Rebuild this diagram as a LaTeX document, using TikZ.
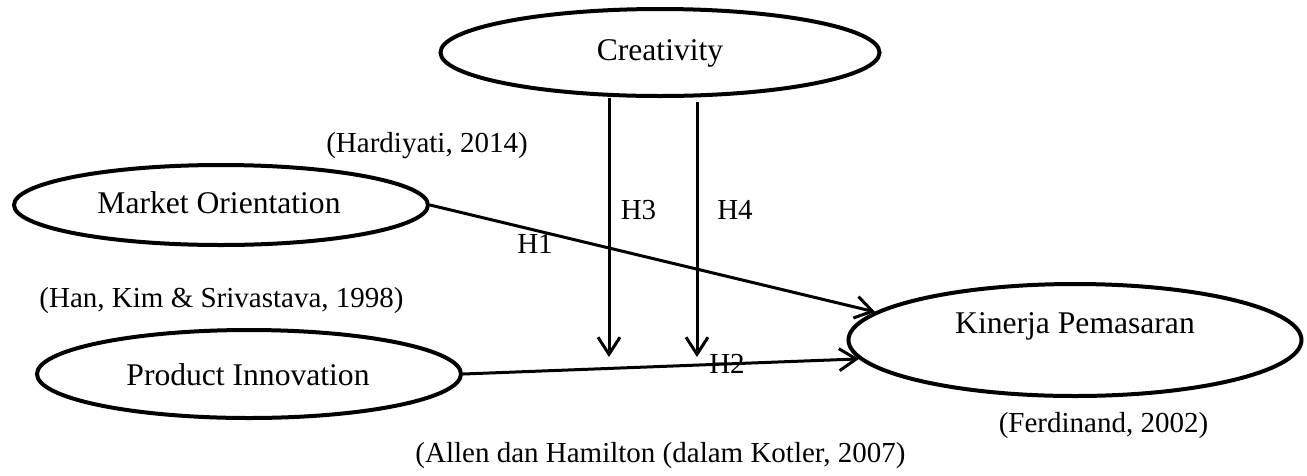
\documentclass[tikz,border=0pt]{standalone}
\usepackage{fontspec}
\setmainfont{Liberation Serif}
\usetikzlibrary{shapes.geometric,arrows.meta}
\tikzset{
  ell/.style={draw, ellipse, line width=4pt, inner sep=0pt},
  bigtxt/.style={anchor=base, inner sep=0pt, font=\fontsize{31.6}{38}\selectfont},
  smalltxt/.style={anchor=base, inner sep=0pt, font=\fontsize{29}{35}\selectfont},
  conn/.style={line width=3pt, -{Straight Barb[length=17pt,width=22pt]}}
}
\begin{document}
\begin{tikzpicture}[x=1pt,y=-1pt]
\useasboundingbox (0,0) rectangle (1307,475);
% ellipses
\node[ell, minimum width=439pt, minimum height=87pt] (cre) at (660,52.5) {};
\node[ell, minimum width=414pt, minimum height=80pt] (mo) at (221,205) {};
\node[ell, minimum width=424pt, minimum height=88pt] (pi) at (249,374) {};
\node[ell, minimum width=453pt, minimum height=112pt] (kp) at (1075,340) {};
% ellipse texts
\node[bigtxt] (tcre) at (660,60) {Creativity};
\node[bigtxt] (tmo) at (219,213) {Market Orientation};
\node[bigtxt] (tpi) at (248,385) {Product Innovation};
\node[bigtxt] (tkp) at (1075,333) {Kinerja Pemasaran};
% citations
\node[smalltxt] (c1) at (427,152) {(Hardiyati, 2014)};
\node[smalltxt] (c2) at (221.5,307) {(Han, Kim \& Srivastava, 1998)};
\node[smalltxt] (c3) at (660.5,462) {(Allen dan Hamilton (dalam Kotler, 2007)};
\node[smalltxt] (c4) at (1103.5,432) {(Ferdinand, 2002)};
% connectors
\coordinate (h3s) at (609,98);
\coordinate (h3e) at (609,357);
\coordinate (h4s) at (697,102);
\coordinate (h4e) at (697,357);
\draw[conn] (mo.east) -- (kp.172);
\draw[conn] (pi.east) -- (kp.185);
\draw[conn] (h3s) -- (h3e);
\draw[conn] (h4s) -- (h4e);
% hypothesis labels
\node[smalltxt] (lh1) at (535,253) {H1};
\node[smalltxt] (lh3) at (638.5,219) {H3};
\node[smalltxt] (lh4) at (735,219) {H4};
\node[smalltxt] (lh2) at (727,373) {H2};
\end{tikzpicture}
\end{document}
